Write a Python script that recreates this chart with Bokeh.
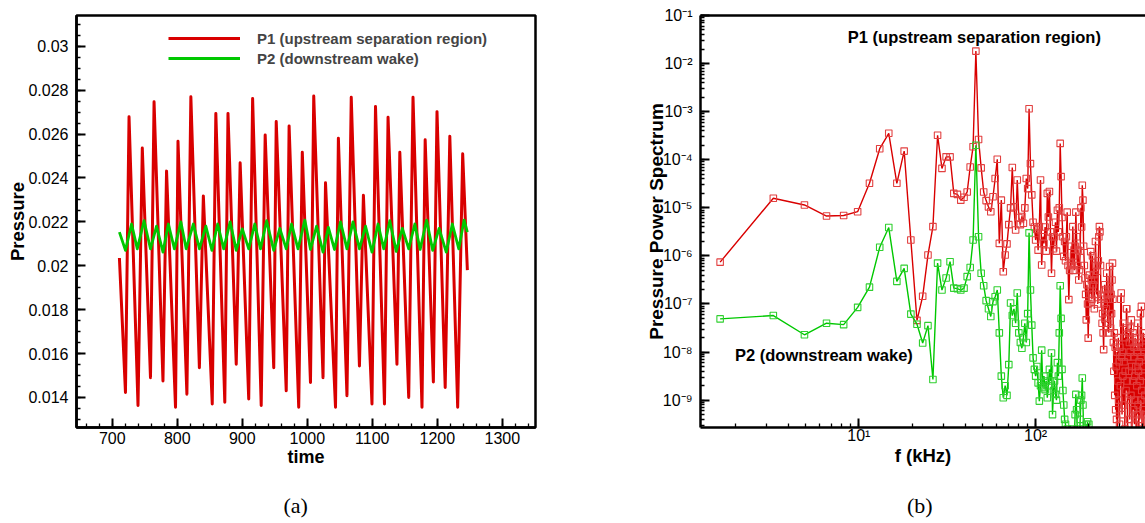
from bokeh.plotting import figure
from bokeh.models import (SingleIntervalTicker, CustomJSTickFormatter, Legend, LegendItem,
                          Label, LogAxis, LinearAxis, LogTicker, FixedTicker)
from bokeh.layouts import row
from bokeh.embed import file_html
from bokeh.resources import INLINE

SANS = "Liberation Sans"
SERIF = "Liberation Serif"
RED = "#d90000"
GREEN = "#00c800"
RED_MK = "#e24040"
GREEN_MK = "#30d030"

# ---------------- (a) pressure history ----------------
p1_start = (711.0, 0.02035)
p1_end = (1246.2, 0.0198)
p1_trough_t = [720.3, 739.6, 758.8, 778.0, 797.3, 814.8, 834.0, 853.8, 873.1, 890.7,
               909.9, 929.1, 948.4, 967.6, 986.8, 1004.9, 1024.2, 1043.4, 1061.0, 1080.2,
               1099.5, 1118.7, 1137.9, 1156.0, 1176.4, 1193.9, 1212.1, 1231.3]
p1_trough_v = [0.01423, 0.01363, 0.0149, 0.01475, 0.01355, 0.01415, 0.01535, 0.0137, 0.01378, 0.01551,
               0.01393, 0.01363, 0.01535, 0.0143, 0.01355, 0.01468, 0.0149, 0.01355, 0.01408, 0.01543,
               0.0137, 0.0137, 0.01551, 0.014, 0.01355, 0.0147, 0.01445, 0.01355]
p1_peak_t = [725.8, 746.2, 764.3, 783.5, 801.1, 820.9, 840.1, 859.3, 878.0, 896.7,
             915.9, 935.2, 952.2, 972.0, 992.3, 1009.9, 1028.0, 1047.8, 1067.6, 1086.3,
             1104.9, 1124.2, 1142.3, 1162.6, 1181.3, 1199.5, 1219.2, 1239.0]
p1_peak_v = [0.02679, 0.02536, 0.02747, 0.02431, 0.02567, 0.0277, 0.02318, 0.02694, 0.02694, 0.02469,
             0.02762, 0.02596, 0.02657, 0.02637, 0.02517, 0.02773, 0.02378, 0.02581, 0.02767, 0.02321,
             0.02725, 0.02676, 0.02517, 0.02767, 0.02574, 0.02702, 0.0259, 0.0251]

p2_start = (711.0, 0.02153)
p2_end = (1246.2, 0.02153)
p2_trough_t = [720.3, 738.5, 758.8, 778.0, 795.6, 813.7, 834.1, 853.3, 871.4, 890.7,
               909.9, 928.0, 948.4, 967.6, 985.7, 1004.9, 1024.2, 1041.8, 1061.0, 1080.2,
               1099.5, 1117.6, 1136.8, 1156.0, 1173.6, 1192.9, 1213.7, 1233.0]
p2_trough_v = [0.0207, 0.02077, 0.02077, 0.02062, 0.02077, 0.02077, 0.02077, 0.0207, 0.02077, 0.0207,
               0.02077, 0.02077, 0.0207, 0.02077, 0.02077, 0.02074, 0.02062, 0.02074, 0.02077, 0.02077,
               0.02062, 0.02077, 0.02065, 0.02077, 0.02074, 0.0207, 0.02062, 0.02077]
p2_peak_t = [729.7, 748.9, 768.1, 786.3, 805.5, 824.7, 844.0, 862.1, 881.3, 900.0,
             919.2, 937.4, 957.7, 975.8, 996.2, 1014.3, 1032.4, 1051.1, 1070.3, 1089.6,
             1108.8, 1126.9, 1146.2, 1165.4, 1183.5, 1202.7, 1223.1, 1241.2]
p2_peak_v = [0.0219, 0.02205, 0.0218, 0.0219, 0.0220, 0.0219, 0.0218, 0.0219, 0.0220, 0.02168,
             0.0219, 0.02205, 0.0217, 0.0219, 0.02208, 0.0218, 0.02175, 0.0220, 0.0220, 0.0218,
             0.0219, 0.02205, 0.0217, 0.0219, 0.02208, 0.0217, 0.0219, 0.02208]

# ---------------- (b) pressure power spectrum (log10 of PSD) ----------------
df_khz = 1.64
p1_log10_psd = [
    -6.13, -4.80, -4.94, -5.17, -5.16, -5.08, -4.49, -3.77, -3.45, -4.49,
    -3.82, -5.67, -7.34, -6.84, -5.98, -5.39, -3.49, -4.18, -3.94, -3.94,
    -4.70, -4.72, -4.84, -4.78, -4.67, -4.15, -3.73, -1.74, -3.58, -4.17,
    -4.67, -4.85, -4.98, -5.08, -4.77, -4.39, -3.99, -5.74, -4.84, -6.33,
    -5.98, -5.75, -5.35, -5.00, -4.16, -4.98, -5.46, -4.42, -5.20, -5.35,
    -5.18, -5.32, -5.00, -4.39, -4.60, -2.94, -4.08, -4.73, -5.30, -5.40,
    -5.67, -5.45, -5.88, -5.39, -4.42, -6.19, -5.60, -5.74, -5.40, -5.90,
    -4.70, -5.19, -4.66, -5.50, -6.36, -5.60, -5.85, -5.60, -5.30, -5.90,
    -5.05, -5.50, -5.00, -3.66, -4.35, -5.20, -5.60, -6.01, -5.70, -6.10,
    -5.60, -5.09, -6.20, -6.91, -6.30, -6.15, -5.80, -6.20, -5.39, -6.00,
    -6.30, -5.80, -5.09, -5.60, -6.20, -5.88, -6.50, -6.29, -5.90, -5.00,
    -5.40, -4.53, -4.84, -5.80, -6.20, -6.46, -6.80, -7.33, -6.60, -7.00,
    -7.71, -6.99, -6.40, -6.80, -5.91, -6.50, -6.90, -6.00, -6.60, -6.39,
    -7.10, -6.50, -5.70, -6.20, -6.80, -6.32, -7.00, -6.10, -5.60, -5.39,
    -5.50, -6.20, -6.90, -6.84, -7.40, -7.20, -7.60, -7.95, -7.00, -6.60,
    -7.30, -6.70, -7.10, -6.36, -6.80, -7.40, -6.90, -7.60, -6.70, -6.22,
    -6.90, -7.50, -6.80, -7.20, -6.50, -6.15, -6.90, -7.80, -8.40, -7.60,
    -8.90, -7.90, -9.20, -8.30, -9.40, -8.00, -9.70, -8.60, -7.70, -9.00,
    -8.20, -9.50, -7.90, -8.70, -6.90, -6.77, -8.10, -9.30, -8.00, -8.50,
    -7.40, -9.10, -8.20, -7.70, -9.60, -8.40, -7.50, -8.80, -7.10, -7.10,
    -8.60, -9.80, -8.10, -7.60, -9.00, -8.40, -7.80, -9.40, -8.00, -7.50,
    -8.90, -7.33, -8.30, -9.70, -7.80, -8.60, -7.60, -9.20, -8.10, -7.90,
    -9.50, -8.50, -7.70, -9.00, -8.30, -9.80, -7.90, -8.70, -9.30, -8.00,
    -7.40, -9.10, -8.40, -9.90, -8.20, -7.80, -9.40, -8.60, -7.20, -9.00,
    -8.10, -7.05, -8.80, -9.60, -7.90, -8.50, -9.20, -7.60, -8.30, -9.70,
    -8.00, -7.70, -8.90, -9.30]
p2_log10_psd = [
    -7.31, -7.24, -7.64, -7.40, -7.43, -7.07, -6.65, -5.82, -5.41, -6.53,
    -6.26, -7.21, -7.42, -7.81, -7.45, -8.57, -6.15, -6.71, -6.46, -6.12,
    -6.67, -6.68, -6.71, -6.67, -6.43, -6.24, -5.67, -3.70, -5.60, -6.36,
    -6.62, -6.93, -7.10, -7.26, -6.95, -6.85, -6.71, -7.60, -8.50, -8.95,
    -8.70, -8.90, -8.26, -6.98, -7.24, -7.10, -7.40, -6.77, -7.60, -7.80,
    -7.92, -7.70, -7.40, -7.80, -7.20, -5.52, -6.71, -7.44, -8.12, -8.36,
    -8.50, -8.30, -8.64, -9.02, -8.70, -7.96, -8.74, -8.50, -8.78, -8.60,
    -8.95, -8.70, -8.36, -8.60, -8.02, -9.30, -8.80, -8.60, -8.88, -9.00,
    -8.22, -8.50, -7.60, -6.62, -7.30, -8.36, -8.80, -9.10, -9.40, -9.50,
    -9.80, -9.60, -9.90, -10.2, -9.80, -10.0, -9.70, -10.3, -9.60, -10.1,
    -9.80, -9.30, -8.88, -9.20, -9.60, -9.90, -10.2, -9.80, -9.40, -9.00,
    -8.90, -8.54, -9.10, -9.60, -9.90, -10.2, -9.70, -9.50, -9.90, -9.45,
    -10.0, -9.50, -10.2, -10.5]

p1_freq = [round(df_khz * (i + 1), 2) for i in range(len(p1_log10_psd))]
p2_freq = [round(df_khz * (i + 1), 2) for i in range(len(p2_log10_psd))]
p1_psd = [10 ** e for e in p1_log10_psd]
p2_psd = [10 ** e for e in p2_log10_psd]


def build(start, tr_t, tr_v, pk_t, pk_v, end):
    t, v = [start[0]], [start[1]]
    for a, b, c, d in zip(tr_t, tr_v, pk_t, pk_v):
        t += [a, c]
        v += [b, d]
    t.append(end[0])
    v.append(end[1])
    return t, v


def style_axis(ax, label_size="16px"):
    ax.axis_line_width = 2.5
    ax.axis_line_color = "black"
    ax.major_tick_in = 9
    ax.major_tick_out = 0
    ax.minor_tick_in = 4
    ax.minor_tick_out = 0
    ax.major_tick_line_width = 2
    ax.minor_tick_line_width = 1.3
    ax.major_label_text_font = SANS
    ax.major_label_text_font_size = label_size
    ax.major_label_text_color = "black"
    ax.axis_label_text_font = SANS
    ax.axis_label_text_font_style = "bold"
    ax.axis_label_text_color = "black"


def caption_axis(axis_cls, pos, text, standoff):
    return axis_cls(ticker=FixedTicker(ticks=[pos], minor_ticks=[]),
                    formatter=CustomJSTickFormatter(code='return "%s";' % text),
                    axis_line_color=None, major_tick_line_color=None, minor_tick_line_color=None,
                    major_tick_in=0, major_tick_out=0, minor_tick_in=0, minor_tick_out=0,
                    major_label_standoff=standoff, major_label_text_font=SERIF,
                    major_label_text_font_size="22px", major_label_text_color="black")


# ---------------- figure (a) ----------------
p1 = figure(width=600, height=523, x_range=(645, 1351), y_range=(0.01263, 0.0314),
            output_backend="svg", toolbar_location=None,
            min_border_left=76, min_border_right=65, min_border_top=11, min_border_bottom=96)
p1.xgrid.visible = False
p1.ygrid.visible = False
p1.outline_line_color = "black"
p1.outline_line_width = 2.5
p1.background_fill_color = "white"
p1.border_fill_color = "white"

p1.xaxis.ticker = SingleIntervalTicker(interval=100, num_minor_ticks=5)
p1.yaxis.ticker = SingleIntervalTicker(interval=0.002, num_minor_ticks=4)
p1.yaxis.formatter = CustomJSTickFormatter(code="return Number(tick.toPrecision(6)).toString();")
style_axis(p1.xaxis[0])
style_axis(p1.yaxis[0])
p1.xaxis.axis_label = "time"
p1.yaxis.axis_label = "Pressure"
p1.xaxis.axis_label_text_font_size = "18px"
p1.yaxis.axis_label_text_font_size = "18.5px"
p1.xaxis.major_label_standoff = 4
p1.yaxis.major_label_standoff = 8
p1.xaxis.axis_label_standoff = 0
p1.yaxis.axis_label_standoff = -3

t1, v1 = build(p1_start, p1_trough_t, p1_trough_v, p1_peak_t, p1_peak_v, p1_end)
t2, v2 = build(p2_start, p2_trough_t, p2_trough_v, p2_peak_t, p2_peak_v, p2_end)
r_red = p1.line(t1, v1, line_color=RED, line_width=3, line_join="round")
r_green = p1.line(t2, v2, line_color=GREEN, line_width=2.8, line_join="round")

legend = Legend(items=[LegendItem(label="P1 (upstream separation region)", renderers=[r_red]),
                       LegendItem(label="P2 (downstream wake)", renderers=[r_green])],
                location=(92, 359), glyph_width=72, glyph_height=20, label_height=20,
                label_standoff=17, spacing=0, padding=0, margin=0,
                border_line_color=None, background_fill_alpha=0,
                label_text_font=SANS, label_text_font_style="bold", label_text_font_size="15px")
p1.add_layout(legend)

# caption "(a)" under the panel (position in data units of the time axis)
p1.add_layout(caption_axis(LinearAxis, 982, "(a)", 23), "below")

# ---------------- figure (b) ----------------
p2 = figure(width=545, height=523, x_axis_type="log", y_axis_type="log",
            x_range=(1.27, 418.6), y_range=(2.7e-10, 0.1),
            output_backend="svg", toolbar_location=None,
            min_border_left=100, min_border_right=0, min_border_top=15, min_border_bottom=95)
p2.xgrid.visible = False
p2.ygrid.visible = False
p2.outline_line_color = None
p2.background_fill_color = "white"
p2.border_fill_color = "white"

sup_js = """
const sup = {"-": "\u207b", "0": "\u2070", "1": "\u00b9", "2": "\u00b2", "3": "\u00b3",
             "4": "\u2074", "5": "\u2075", "6": "\u2076", "7": "\u2077", "8": "\u2078", "9": "\u2079"};
const e = Math.round(Math.log10(tick));
return "10" + String(e).split("").map(c => sup[c]).join("");
"""
p2.xaxis.ticker = LogTicker(num_minor_ticks=10, desired_num_ticks=6)
p2.yaxis.ticker = LogTicker(num_minor_ticks=10, desired_num_ticks=10)
p2.xaxis.formatter = CustomJSTickFormatter(code=sup_js)
p2.yaxis.formatter = CustomJSTickFormatter(code=sup_js)
style_axis(p2.xaxis[0])
style_axis(p2.yaxis[0])
p2.xaxis.axis_label = "f (kHz)"
p2.yaxis.axis_label = "Pressure Power Spectrum"
p2.xaxis.axis_label_text_font_size = "18.5px"
p2.yaxis.axis_label_text_font_size = "19px"
p2.xaxis.major_label_standoff = -1
p2.yaxis.major_label_standoff = 8
p2.xaxis.axis_label_standoff = -2
p2.yaxis.axis_label_standoff = -7

top = LogAxis(ticker=FixedTicker(ticks=[], minor_ticks=[]),
              major_tick_in=0, major_tick_out=0, minor_tick_in=0, minor_tick_out=0,
              axis_line_width=2.5, axis_line_color="black")
p2.add_layout(top, "above")

p2.line(p1_freq, p1_psd, line_color=RED, line_width=1.4)
p2.scatter(p1_freq, p1_psd, marker="square", size=6.5, fill_color=None,
           line_color=RED_MK, line_width=1.1)
p2.line(p2_freq, p2_psd, line_color=GREEN, line_width=1.4)
p2.scatter(p2_freq, p2_psd, marker="square", size=6.5, fill_color=None,
           line_color=GREEN_MK, line_width=1.1)

p2.add_layout(Label(x=8.66, y=0.0358, text="P1 (upstream separation region)",
                    text_font=SANS, text_font_style="bold", text_font_size="16.5px",
                    text_baseline="middle", text_align="left", text_color="black"))
p2.add_layout(Label(x=1.99, y=8.5e-9, text="P2 (downstream wake)",
                    text_font=SANS, text_font_style="bold", text_font_size="16.5px",
                    text_baseline="middle", text_align="left", text_color="black"))

# caption "(b)" under the panel (position in data units of the frequency axis)
p2.add_layout(caption_axis(LogAxis, 22.1, "(b)", 24), "below")

layout = row(p1, p2)
open("out.html", "w").write(file_html(layout, INLINE))
